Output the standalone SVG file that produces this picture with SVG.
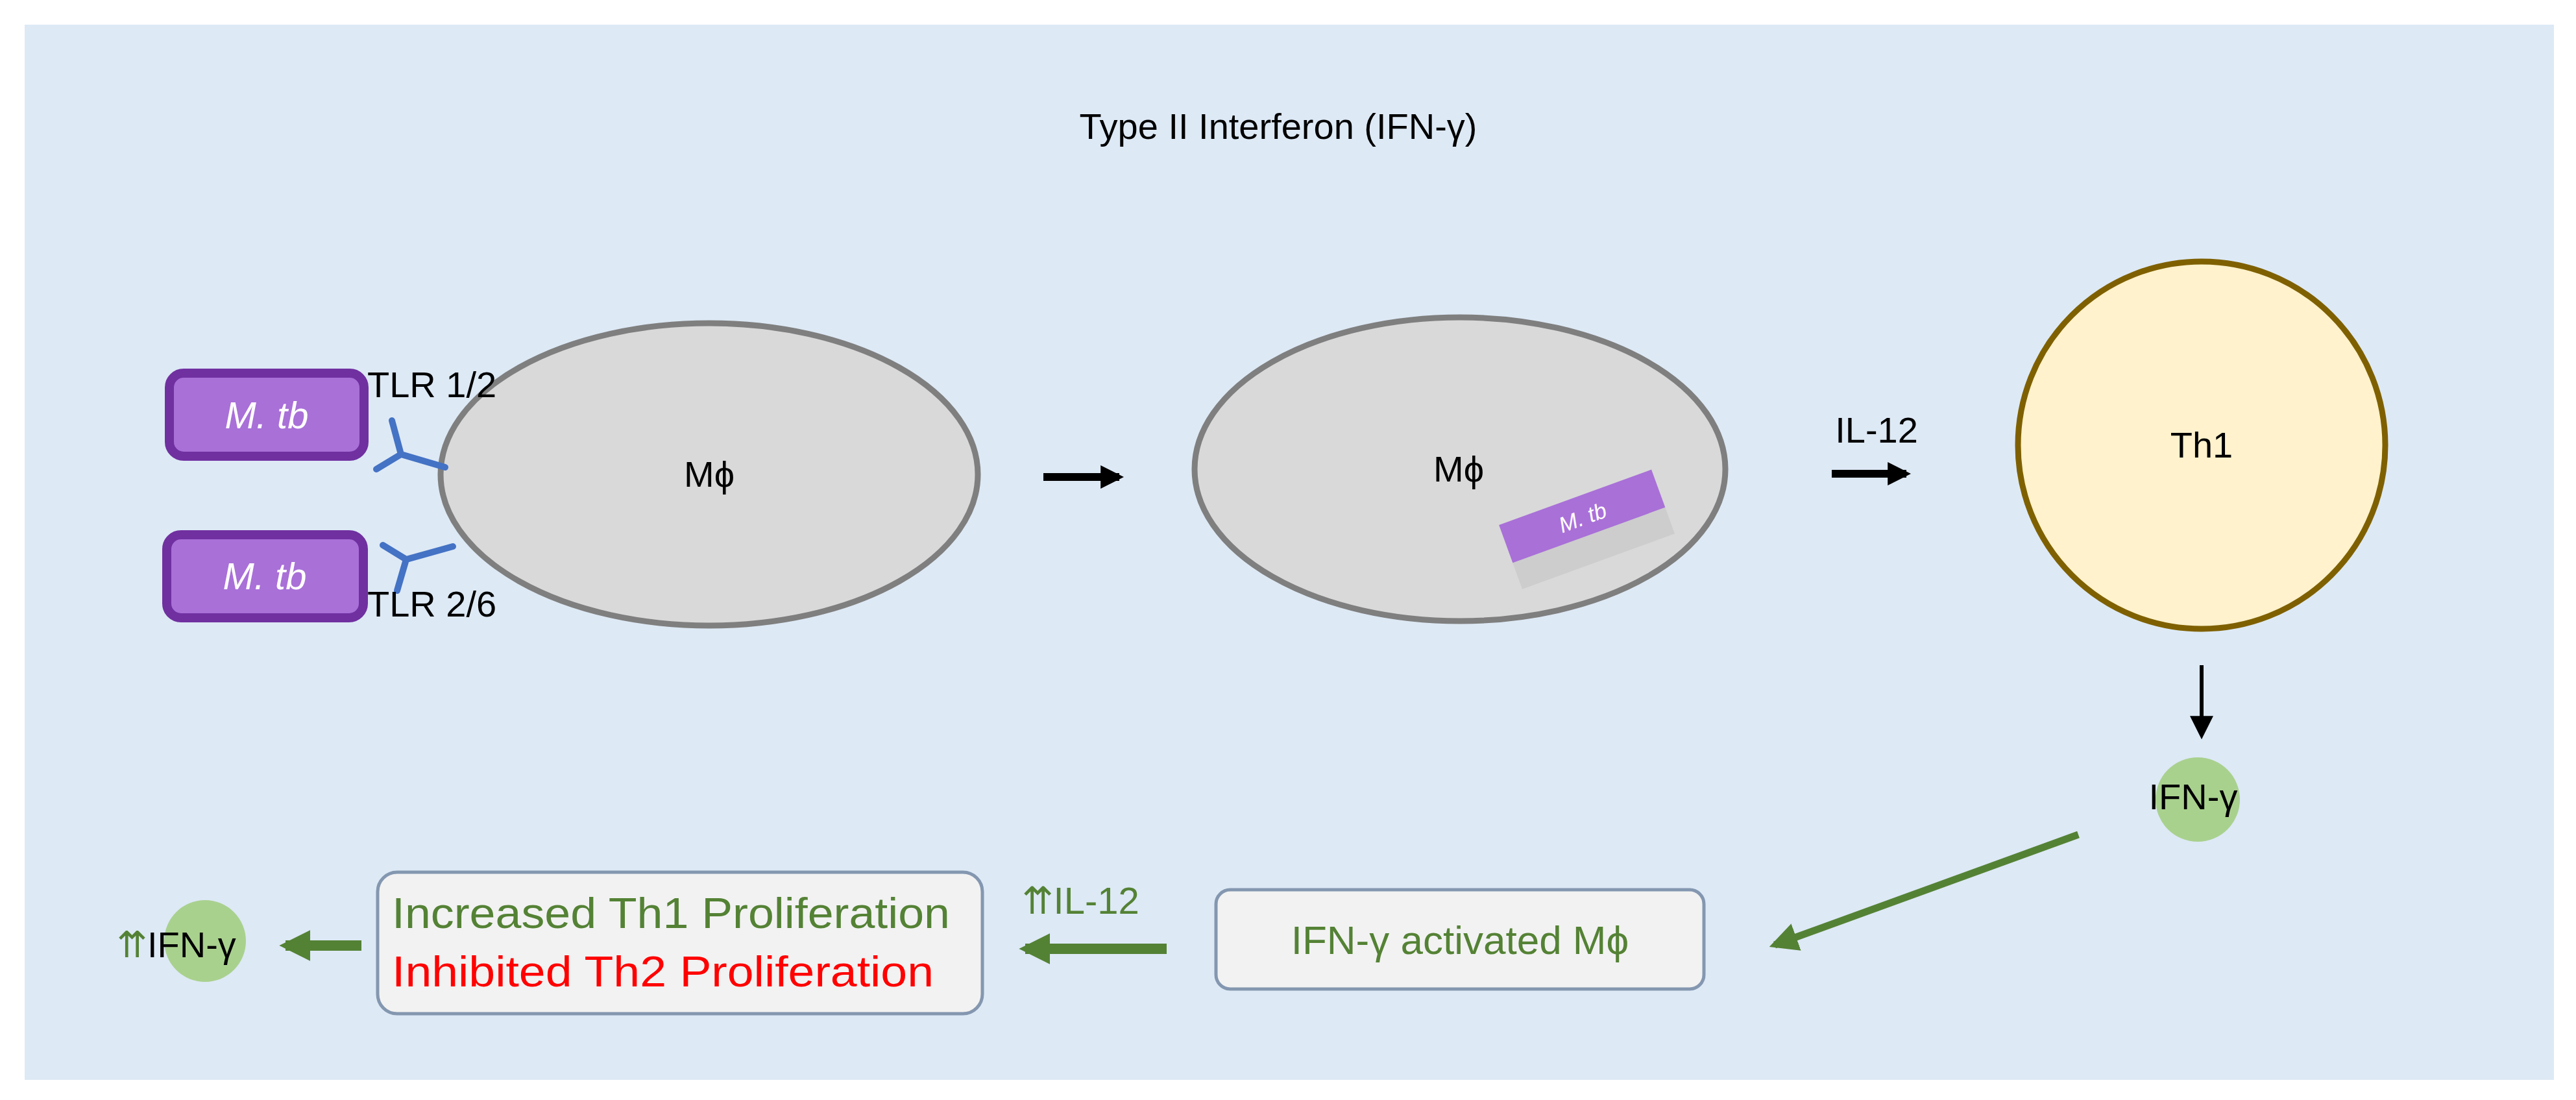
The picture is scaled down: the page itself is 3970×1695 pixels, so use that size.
<svg xmlns="http://www.w3.org/2000/svg" width="3970" height="1695" viewBox="0 0 3970 1695">
<style>
text{font-family:"Liberation Sans","DejaVu Sans",sans-serif}
.lbl{font-size:56px;fill:#000}
.mtb{font-size:58px;fill:#fff;font-style:italic;text-anchor:middle}
.g{fill:#548235}
.cell{fill:#d9d9d9;stroke:#7f7f7f;stroke-width:9}
.box{fill:#f2f2f2;stroke:#8497b0;stroke-width:5}
.tlr{fill:none;stroke:#4472c4;stroke-width:10;stroke-linecap:round}
</style>
<defs>
<marker id="ab" viewBox="0 0 10 10" refX="8" refY="5" markerWidth="3" markerHeight="3" orient="auto" markerUnits="strokeWidth"><path d="M0,0L10,5L0,10z" fill="#000"/></marker>
<marker id="abt" viewBox="0 0 10 10" refX="8" refY="5" markerWidth="6" markerHeight="6" orient="auto" markerUnits="strokeWidth"><path d="M0,0L10,5L0,10z" fill="#000"/></marker>
<marker id="ag" viewBox="0 0 10 10" refX="8" refY="5" markerWidth="3" markerHeight="3" orient="auto" markerUnits="strokeWidth"><path d="M0,0L10,5L0,10z" fill="#548235"/></marker>
<marker id="ag2" viewBox="0 0 10 10" refX="8" refY="5" markerWidth="4" markerHeight="4" orient="auto" markerUnits="strokeWidth"><path d="M0,0L10,5L0,10z" fill="#548235"/></marker>
</defs>
<rect width="3970" height="1695" fill="#fff"/>
<rect x="38" y="38" width="3898" height="1626" fill="#dde9f5"/>
<text x="1970" y="214" class="lbl" text-anchor="middle" font-size="58">Type II Interferon (IFN-γ)</text>

<g id="mtb1"><rect x="261" y="575" width="300" height="128" rx="22" fill="#a970d8" stroke="#7030a0" stroke-width="14"/><text x="411" y="660" class="mtb">M. tb</text></g>
<g id="mtb2"><rect x="257" y="824" width="303" height="128" rx="22" fill="#a970d8" stroke="#7030a0" stroke-width="14"/><text x="408" y="908" class="mtb">M. tb</text></g>

<g id="mac1">
<ellipse cx="1093" cy="731" rx="414" ry="233" class="cell"/>
<text x="1093" y="750" class="lbl" text-anchor="middle" font-size="60">Mϕ</text>
</g>
<g id="tlr">
<path class="tlr" d="M604,648L618,700L686,720M580,723L618,700"/>
<path class="tlr" d="M590,840L626,862L698,842M612,910L626,862"/>
<text x="566" y="612" class="lbl">TLR 1/2</text>
<text x="566" y="950" class="lbl">TLR 2/6</text>
</g>

<g id="mac2">
<ellipse cx="2250" cy="723" rx="409" ry="234" class="cell"/>
<text x="2248" y="742" class="lbl" text-anchor="middle" font-size="60">Mϕ</text>
<g transform="rotate(-20 2440 815)">
<rect x="2320" y="800" width="250" height="70" fill="#c9c9c9" opacity="0.8"/>
<rect x="2320" y="765" width="250" height="62" fill="#a970d8"/>
<text x="2445" y="810" font-size="34" fill="#fff" text-anchor="middle" font-style="italic">M. tb</text>
</g>
</g>

<g id="th1">
<circle cx="3393" cy="686" r="283" fill="#fff2cc" stroke="#7f6000" stroke-width="9"/>
<text x="3393" y="705" class="lbl" text-anchor="middle">Th1</text>
</g>

<g id="ifn1">
<circle cx="3387" cy="1232" r="65" fill="#a9d18e"/>
<text x="3380" y="1247" class="lbl" text-anchor="middle">IFN-γ</text>
</g>

<g id="box1">
<rect x="1874" y="1371" width="752" height="153" rx="22" class="box"/>
<text x="2250" y="1470" font-size="62" class="g" text-anchor="middle">IFN-γ activated Mϕ</text>
</g>

<g id="box2">
<rect x="582" y="1344" width="932" height="218" rx="30" class="box"/>
<text x="604" y="1430" font-size="66" class="g" textLength="860" lengthAdjust="spacingAndGlyphs">Increased Th1 Proliferation</text>
<text x="604" y="1520" font-size="66" fill="#ff0000" textLength="835" lengthAdjust="spacingAndGlyphs">Inhibited Th2 Proliferation</text>
</g>

<g id="ifn2">
<circle cx="316" cy="1450" r="63" fill="#a9d18e"/>
<text x="180" y="1475" class="lbl"><tspan class="g">⇈</tspan>IFN-γ</text>
</g>

<g id="connectors">
<line x1="1608" y1="735" x2="1725" y2="735" stroke="#000" stroke-width="12" marker-end="url(#ab)"/>
<line x1="2823" y1="730" x2="2938" y2="730" stroke="#000" stroke-width="12" marker-end="url(#ab)"/>
<text x="2892" y="682" class="lbl" text-anchor="middle">IL-12</text>
<line x1="3393" y1="1025" x2="3393" y2="1132" stroke="#000" stroke-width="6" marker-end="url(#abt)"/>
<line x1="3203" y1="1286" x2="2735" y2="1456" stroke="#548235" stroke-width="11" marker-end="url(#ag2)"/>
<line x1="1798" y1="1462" x2="1580" y2="1462" stroke="#548235" stroke-width="16" marker-end="url(#ag)"/>
<text x="1575" y="1408" font-size="58" class="g">⇈IL-12</text>
<line x1="557" y1="1457" x2="440" y2="1457" stroke="#548235" stroke-width="16" marker-end="url(#ag)"/>
</g>
</svg>
